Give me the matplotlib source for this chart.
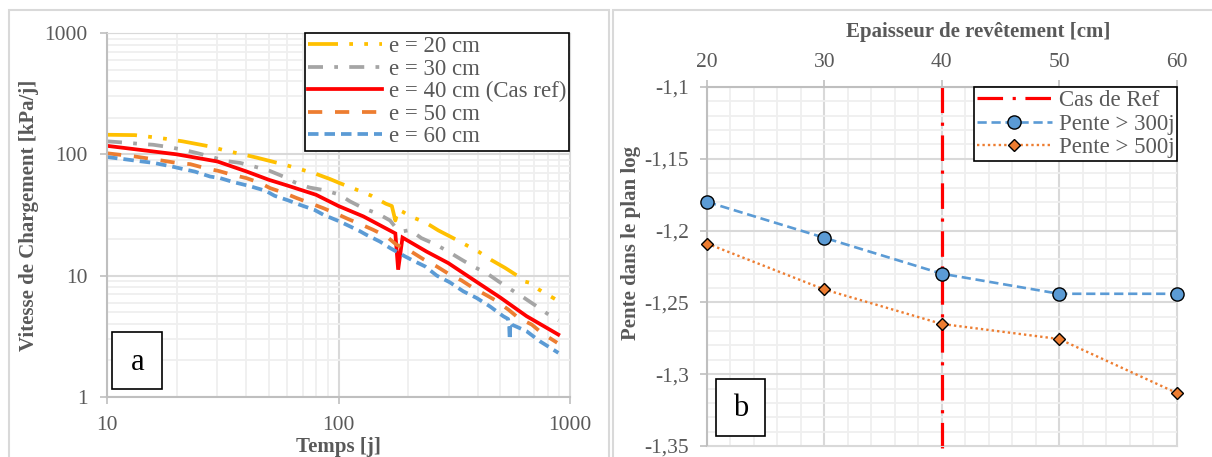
import matplotlib
matplotlib.use("Agg")
import matplotlib.pyplot as plt
from matplotlib.ticker import LogLocator, NullFormatter, FixedLocator, MultipleLocator
from matplotlib.patches import Rectangle

# ---------------- data (panel a) ----------------
t20 = [10, 13.2, 15.5, 18.1, 21.2, 27.9, 32.7, 38.5, 44.3, 58.7, 68.2, 80, 92, 101, 122, 139, 160, 170,
       176, 181, 190, 204, 237, 270, 313, 402, 456, 524, 598, 628, 669, 713, 755, 861]
v20 = [145, 144, 139, 134, 128, 116, 107, 100, 94, 82, 75.5, 69, 62.5, 58, 50.4, 45.5, 39.2, 37.5,
       28.5, 35, 33.5, 30.8, 27.5, 23.6, 20.4, 15.8, 13.5, 11.6, 9.87, 9.0, 8.75, 7.95, 7.43, 6.43]

t30 = [10, 11.9, 13.8, 15.8, 18.4, 21.4, 24.7, 27.9, 32.7, 37.6, 43.6, 50.5, 57.8, 64.9, 74.8, 87.5, 101,
       112, 128, 149, 167, 175, 181, 190, 204, 228, 264, 298, 337, 382, 436, 490, 551, 625, 711, 798, 891]
v30 = [128, 125, 122, 120, 115, 109, 102, 96, 88, 85, 79, 73, 65.6, 58.6, 53.3, 50.5, 46.5,
       41, 36, 32.2, 28.5, 25.5, 24.9, 23.2, 23.8, 20.4, 18, 15.8, 13.7, 11.9, 10.5, 9.0, 7.77, 6.68, 5.66, 4.86, 4.28]

t40 = [10, 20, 30, 40, 50, 60, 80, 100, 128, 176, 181, 189, 240, 298, 382, 500, 650, 890]
v40 = [117.5, 100, 87.3, 72.3, 61.7, 55.4, 46.4, 37.5, 30.8, 22.3, 11.2, 20.6, 15.8, 12.7, 9.27, 6.6, 4.63, 3.27]

t50 = [10, 13.2, 15.3, 17.5, 20, 22.9, 26.5, 30.3, 34.6, 40, 46, 50.6, 57.5, 66, 75.4, 86, 98, 110, 126, 141,
       161, 178, 206, 232, 266, 298, 340, 376, 430, 474, 542, 598, 684, 755, 880]
v50 = [102, 96, 92, 88.5, 85, 83, 77, 73, 68, 63.7, 58, 52.7, 48.5, 43.6, 39.6, 36, 32.4, 29.3, 26.3, 23.9,
       21.1, 18, 15.8, 13.7, 11.9, 10.4, 9.14, 8.07, 7.0, 6.3, 5.25, 4.49, 3.95, 3.37, 2.8]

t60 = [10, 12, 13.4, 15.9, 19, 21.4, 24, 27.9, 30.8, 35.2, 41, 48.5, 53, 60.7, 68, 78.6, 86, 101, 112, 124,
       132, 151, 167, 194, 207, 237, 266, 303, 346, 395, 451, 515, 540, 546, 549, 553, 560, 578, 650, 741, 891]
v60 = [95, 91, 88.5, 85, 79.5, 75.5, 72, 65.6, 63.7, 59, 55, 50, 45.5, 41.7, 38.4, 34.9, 31.8, 28, 25.5, 23.2,
       21.7, 19.1, 16.9, 14.4, 13.5, 11.9, 10, 8.8, 7.43, 6.55, 5.58, 4.63, 4.4, 3.9, 2.95, 4.1, 3.95, 3.85, 3.48, 2.88, 2.31]

labels_a = ["e = 20 cm", "e = 30 cm", "e = 40 cm (Cas ref)", "e = 50 cm", "e = 60 cm"]
xticks_a = [10, 100, 1000]
yticks_a = [1, 10, 100, 1000]

# ---------------- data (panel b) ----------------
ep = [20, 30, 40, 50, 60]
p300 = [-1.180, -1.205, -1.230, -1.244, -1.244]
p500 = [-1.209, -1.241, -1.265, -1.2755, -1.313]
ref_ep = 40
labels_b = ["Cas de Ref", "Pente > 300j", "Pente > 500j"]
yticks_b = [-1.1, -1.15, -1.2, -1.25, -1.3, -1.35]
yticklabels_b = ["-1,1", "-1,15", "-1,2", "-1,25", "-1,3", "-1,35"]

# ---------------- style ----------------
W, H = 1212, 457
FONT = "Liberation Serif"
GRAY_TXT = "#595959"
AX_COL = "#bfbfbf"
MAJ = "#d9d9d9"
MIN = "#efefef"
plt.rcParams["font.family"] = [FONT, "DejaVu Serif"]

fig = plt.figure(figsize=(W / 100, H / 100), dpi=100)


def px_axes(x0, y0, x1, y1):
    return fig.add_axes([x0 / W, 1 - y1 / H, (x1 - x0) / W, (y1 - y0) / H])


def fx(x):
    return x / W


def fy(y):
    return 1 - y / H


# panel borders
fig.patches.append(Rectangle((fx(9), fy(470)), fx(609) - fx(9), fy(10) - fy(470), transform=fig.transFigure,
                             fill=False, edgecolor="#d9d9d9", lw=1.5))
fig.patches.append(Rectangle((fx(613), fy(470)), fx(1230) - fx(613), fy(10) - fy(470), transform=fig.transFigure,
                             fill=False, edgecolor="#d9d9d9", lw=1.5))

# ================= panel a =================
ax = px_axes(107, 33, 570, 397)
ax.set_xscale("log")
ax.set_yscale("log")
ax.set_xlim(10, 1000)
ax.set_ylim(1, 1000)
ax.set_axisbelow(True)
ax.xaxis.set_major_locator(FixedLocator(xticks_a))
ax.yaxis.set_major_locator(FixedLocator(yticks_a))
ax.xaxis.set_minor_locator(LogLocator(base=10, subs=range(2, 10)))
ax.yaxis.set_minor_locator(LogLocator(base=10, subs=range(2, 10)))
ax.xaxis.set_minor_formatter(NullFormatter())
ax.yaxis.set_minor_formatter(NullFormatter())
ax.set_xticklabels([str(v) for v in xticks_a])
ax.set_yticklabels([str(v) for v in yticks_a])
ax.grid(True, which="minor", color=MIN, lw=1.3)
ax.grid(True, which="major", color=MAJ, lw=1.5)
ax.tick_params(which="major", length=5, width=1.2, color=AX_COL, labelsize=15.5, labelcolor=GRAY_TXT)
ax.tick_params(axis="x", which="major", pad=8.5)
ax.tick_params(axis="y", which="major", pad=9)
ax.tick_params(which="minor", length=0)
for s in ["top", "right"]:
    ax.spines[s].set_color(MAJ)
for s in ["left", "bottom"]:
    ax.spines[s].set_color(AX_COL)
    ax.spines[s].set_linewidth(1.5)

lw = 2.7
l20, = ax.plot(t20, v20, color="#FFC000", lw=lw, dashes=(8, 3, 1, 3, 1, 3))
l30, = ax.plot(t30, v30, color="#A5A5A5", lw=lw, dashes=(4, 3, 1, 3))
l40, = ax.plot(t40, v40, color="#FF0000", lw=lw, solid_joinstyle="miter")
l50, = ax.plot(t50, v50, color="#ED7D31", lw=lw, dashes=(3.8, 3.4))
l60, = ax.plot(t60, v60, color="#5B9BD5", lw=lw, dashes=(2.8, 1.6))

leg = ax.legend([l20, l30, l40, l50, l60], labels_a, loc="upper left",
                bbox_to_anchor=(fx(305), fy(33)), bbox_transform=fig.transFigure,
                fontsize=16.5, frameon=True, fancybox=False, framealpha=1, edgecolor="black",
                handlelength=3.2, handletextpad=0.3, borderpad=0.15, labelspacing=0.06,
                borderaxespad=0, labelcolor=GRAY_TXT)
leg.get_frame().set_linewidth(1.2)

fig.text(fx(29), fy(215), "Vitesse de Chargement [kPa/j]", rotation=90, ha="center", va="center",
         fontsize=15, fontweight="bold", color=GRAY_TXT)
fig.text(fx(338), fy(447), "Temps [j]", ha="center", va="center", fontsize=15, fontweight="bold", color=GRAY_TXT)

# box a
fig.patches.append(Rectangle((fx(112), fy(389)), fx(162) - fx(112), fy(332) - fy(389), transform=fig.transFigure,
                             facecolor="white", edgecolor="black", lw=1.2, zorder=5))
fig.text(fx(137.5), fy(362), "a", ha="center", va="center", fontsize=22, color="black", zorder=6)

# ================= panel b =================
bx = px_axes(707, 87, 1176.5, 446)
bx.set_xlim(20, 60)
bx.set_ylim(-1.35, -1.1)
bx.set_axisbelow(True)
bx.xaxis.tick_top()
bx.set_xticks(ep)
bx.set_xticklabels([str(v) for v in ep])
bx.xaxis.set_minor_locator(MultipleLocator(2))
bx.set_yticks(yticks_b)
bx.set_yticklabels(yticklabels_b)
bx.yaxis.set_minor_locator(MultipleLocator(0.01))
bx.grid(True, which="minor", color=MIN, lw=1.3)
bx.grid(True, which="major", color=MAJ, lw=1.5)
bx.tick_params(which="major", length=5, width=1.2, color=AX_COL, labelsize=15.5, labelcolor=GRAY_TXT)
bx.tick_params(axis="x", which="major", pad=6)
bx.tick_params(axis="y", which="major", pad=8)
bx.tick_params(which="minor", length=0)
for s in ["bottom", "right"]:
    bx.spines[s].set_color(MAJ)
for s in ["left", "top"]:
    bx.spines[s].set_color(AX_COL)
    bx.spines[s].set_linewidth(1.5)

lref, = bx.plot([ref_ep, ref_ep], [-1.1, -1.4], color="#FF0000", lw=2.3, dashes=(8, 3, 1, 3), clip_on=False)
lp3, = bx.plot(ep, p300, color="#5B9BD5", lw=1.9, dashes=(3.5, 1.8), marker="o", ms=9.5,
               markerfacecolor="#5B9BD5", markeredgecolor="black", markeredgewidth=1.0, clip_on=False, zorder=4)
lp5, = bx.plot(ep, p500, color="#ED7D31", lw=1.7, dashes=(1, 1.3), marker="D", ms=6.2,
               markerfacecolor="#ED7D31", markeredgecolor="black", markeredgewidth=1.0, clip_on=False, zorder=4)

leg2 = bx.legend([lref, lp3, lp5], labels_b, loc="upper right",
                 bbox_to_anchor=(fx(1177), fy(87)), bbox_transform=fig.transFigure,
                 fontsize=16.5, frameon=True, fancybox=False, framealpha=1, edgecolor="black",
                 handlelength=3.3, handletextpad=0.28, borderpad=0.12, labelspacing=0.12,
                 borderaxespad=0, labelcolor=GRAY_TXT)
leg2.get_frame().set_linewidth(1.2)

fig.text(fx(978), fy(32), "Epaisseur de revêtement [cm]", ha="center", va="center",
         fontsize=15, fontweight="bold", color=GRAY_TXT)
fig.text(fx(631), fy(243), "Pente dans le plan log", rotation=90, ha="center", va="center",
         fontsize=15, fontweight="bold", color=GRAY_TXT)

fig.patches.append(Rectangle((fx(716), fy(436)), fx(765) - fx(716), fy(379) - fy(436), transform=fig.transFigure,
                             facecolor="white", edgecolor="black", lw=1.2, zorder=5))
fig.text(fx(740.5), fy(408), "b", ha="center", va="center", fontsize=22, color="black", zorder=6)

fig.savefig("out.png", dpi=100)
